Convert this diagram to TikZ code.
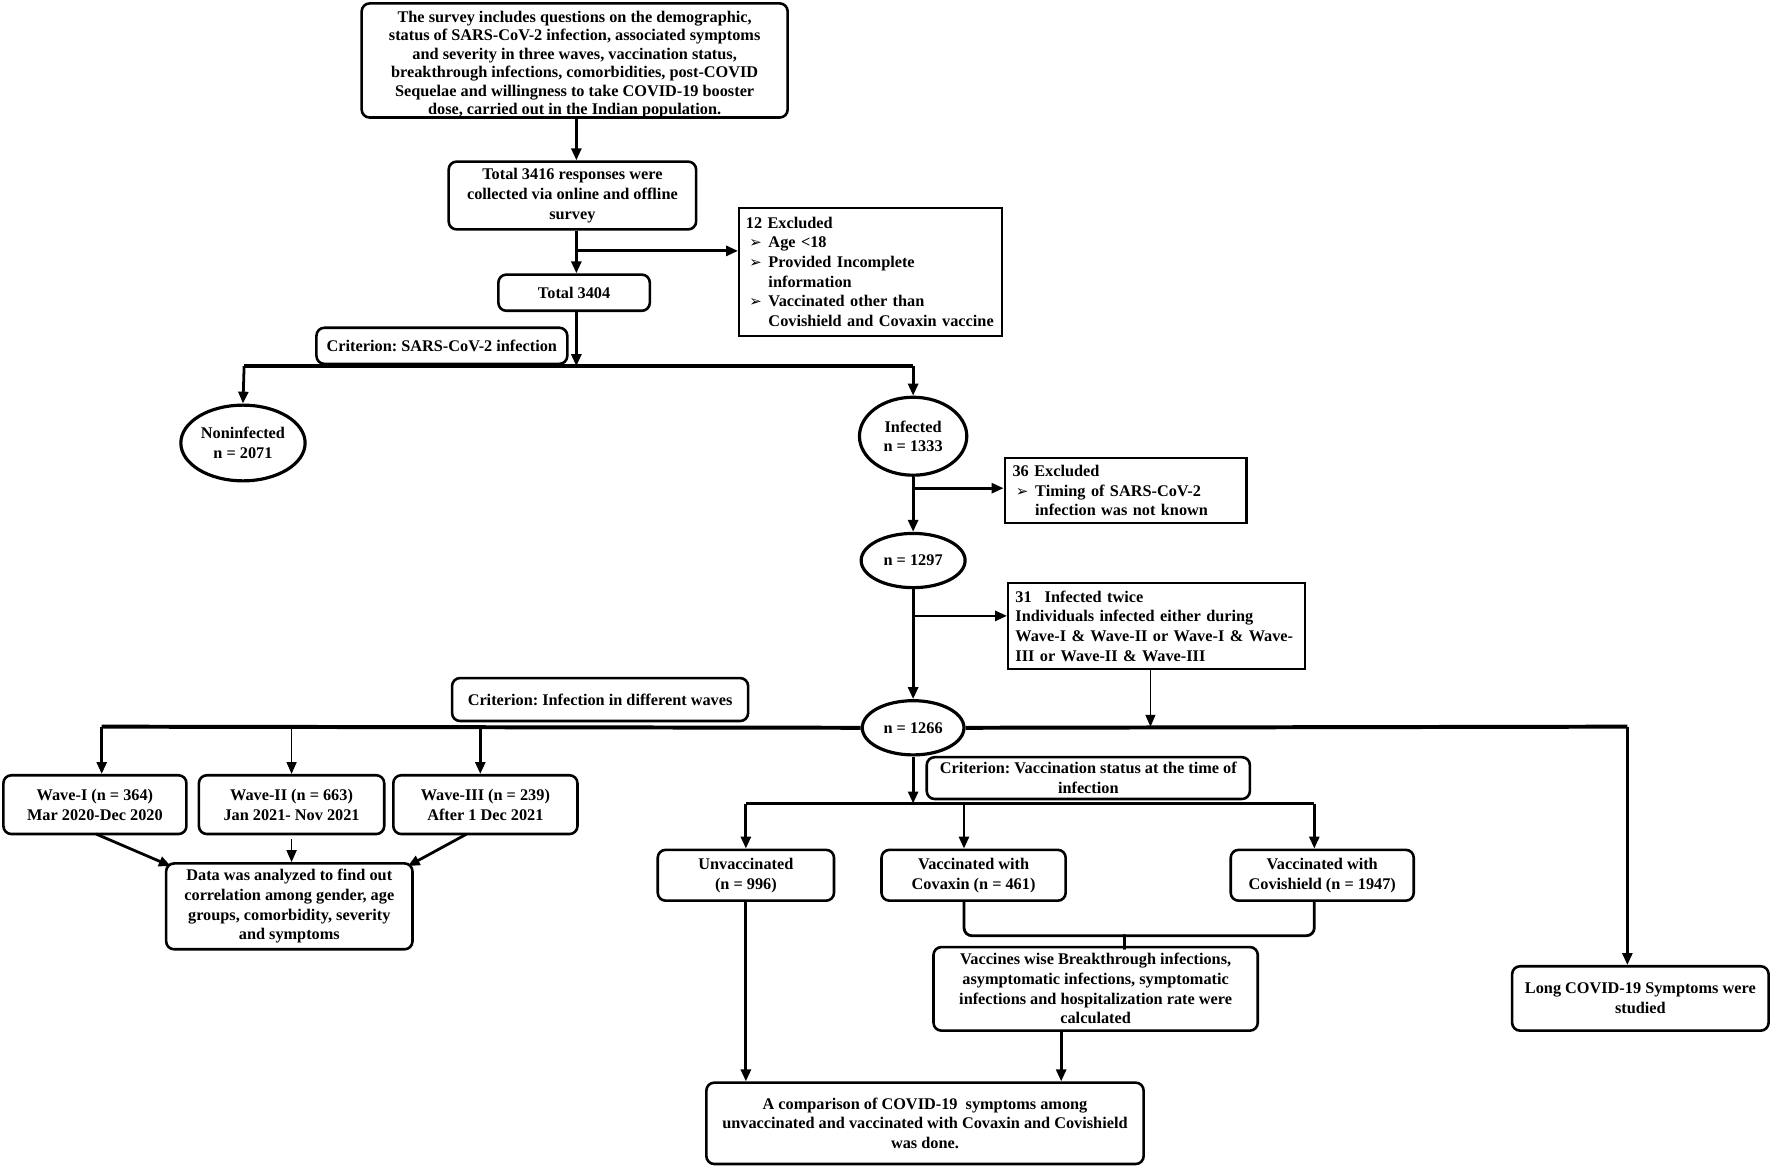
\documentclass[tikz,border=0pt]{standalone}
\usepackage{fontspec}
\setmainfont{Liberation Serif}
\newfontfamily\djv{DejaVu Sans}
\usetikzlibrary{arrows.meta,shapes.geometric}
\newcommand\bul{\hspace*{0.06cm}\makebox[0.34cm][l]{\djv\fontsize{7.5}{7.5}\selectfont ➢}}
\newcommand\ind{\hspace*{0.4cm}}
\frenchspacing
\begin{document}
\begin{tikzpicture}[x=0.02cm,y=-0.02cm,
  font=\fontsize{8.2}{9.9}\selectfont\bfseries,
  rbox/.style={draw, rounded corners=4pt, line width=1.3pt, inner sep=0pt, align=center},
  sbox/.style={draw, line width=1.1pt, inner sep=0pt, align=left},
  ell/.style={draw, ellipse, line width=1.6pt, inner sep=0pt, align=center},
  sz/.style 2 args={minimum width=#1, minimum height=#2},
  conn/.style={line width=1.4pt},
  arr/.style={conn, -{Triangle[length=6pt,width=5pt]}},
  thinarr/.style={line width=0.9pt, -{Triangle[length=6pt,width=5pt]}},
  bus/.style={line width=2pt},
]
\useasboundingbox (0,0) rectangle (1568,1034);

% boxes
\node[rbox, sz={7.54cm}{2.02cm}] (top) at (508.5,53.5) {};
\node[align=center, inner sep=0pt, font=\fontsize{8.2}{9.3}\selectfont\bfseries] (toptext) at (508.5,57) {The survey includes questions on the demographic,\\status of SARS-CoV-2 infection, associated symptoms\\and severity in three waves, vaccination status,\\breakthrough infections, comorbidities, post-COVID\\Sequelae and willingness to take COVID-19 booster\\dose, carried out in the Indian population.};
\node[rbox, sz={4.38cm}{1.2cm}] (resp) at (506.5,173) {Total 3416 responses were\\collected via online and offline\\survey};
\node[sbox, sz={4.66cm}{2.26cm}, text width=4.42cm] (ex12) at (770.5,240.5) {12 Excluded\\\bul Age <18\\\bul Provided Incomplete\\\ind information\\\bul Vaccinated other than\\\ind Covishield and Covaxin vaccine};
\node[rbox, sz={2.68cm}{0.64cm}] (tot) at (508,259) {Total 3404};
\node[rbox, sz={4.44cm}{0.64cm}] (crit1) at (391,306) {Criterion: SARS-CoV-2 infection};
\node[ell, sz={2.2cm}{1.34cm}] (noninf) at (215,392) {Noninfected\\n = 2071};
\node[ell, sz={1.9cm}{1.38cm}] (inf) at (808,386) {Infected\\n = 1333};
\node[sbox, sz={4.28cm}{1.16cm}, text width=4.0cm] (ex36) at (996,434) {36 Excluded\\\bul Timing of SARS-CoV-2\\\ind infection was not known};
\node[ell, sz={1.84cm}{0.96cm}] (n1297) at (808,496) {n = 1297};
\node[sbox, sz={5.26cm}{1.52cm}, text width=5.0cm] (ex31) at (1023.5,554) {31\hspace{0.8em}Infected twice\\Individuals infected either during\\Wave-I \& Wave-II or Wave-I \& Wave-\\III or Wave-II \& Wave-III};
\node[ell, sz={1.8cm}{0.96cm}] (n1266) at (808,644) {n = 1266};
\node[rbox, sz={5.24cm}{0.76cm}] (crit2) at (531,619) {Criterion: Infection in different waves};
\node[rbox, sz={3.24cm}{1.04cm}] (w1) at (84,712) {Wave-I (n = 364)\\Mar 2020-Dec 2020};
\node[rbox, sz={3.28cm}{1.04cm}] (w2) at (258,712) {Wave-II (n = 663)\\Jan 2021- Nov 2021};
\node[rbox, sz={3.26cm}{1.04cm}] (w3) at (429.5,712) {Wave-III (n = 239)\\After 1 Dec 2021};
\node[rbox, sz={4.36cm}{1.52cm}] (data) at (256,802) {Data was analyzed to find out\\correlation among gender, age\\groups, comorbidity, severity\\and symptoms};
\node[rbox, sz={5.72cm}{0.74cm}] (crit3) at (963,688.5) {Criterion: Vaccination status at the time of\\infection};
\node[rbox, sz={3.12cm}{0.9cm}] (unvac) at (660,774.5) {Unvaccinated\\(n = 996)};
\node[rbox, sz={3.26cm}{0.9cm}] (covax) at (861.5,774.5) {Vaccinated with\\Covaxin (n = 461)};
\node[rbox, sz={3.24cm}{0.9cm}] (covish) at (1170,774.5) {Vaccinated with\\Covishield (n = 1947)};
\node[rbox, sz={5.74cm}{1.48cm}] (vac) at (969.5,875) {Vaccines wise Breakthrough infections,\\asymptomatic infections, symptomatic\\infections and hospitalization rate were\\calculated};
\node[rbox, sz={7.74cm}{1.44cm}] (comp) at (818.5,994) {A comparison of COVID-19\ \ symptoms among\\unvaccinated and vaccinated with Covaxin and Covishield\\was done.};
\node[rbox, sz={4.54cm}{1.14cm}] (long) at (1451.5,883.5) {Long COVID-19 Symptoms were\\studied};

% coordinates
\coordinate (b1) at (510,222);
\coordinate (h1L) at (216,324);
\coordinate (h1M) at (510,324);
\coordinate (h1R) at (808,324);
\coordinate (b2) at (808,432);
\coordinate (b3) at (808,545);
\coordinate (h2L) at (90,643);
\coordinate (h2a) at (258,643);
\coordinate (h2b) at (425,643);
\coordinate (h2c) at (1018,643);
\coordinate (h2R) at (1440,643);
\coordinate (h3L) at (660,711);
\coordinate (h3M) at (808,711);
\coordinate (h3a) at (853,711);
\coordinate (h3R) at (1163,711);
\coordinate (bL) at (853,797);
\coordinate (bR) at (1163,797);
\coordinate (btip) at (995,840);
\coordinate (vout) at (939,913);
\coordinate (w3out) at (413,738);
\coordinate (w1out) at (85,738);

% connectors
\draw[arr] (top.south -| b1) -- (b1 |- resp.north);
\draw[arr] (b1 |- resp.south) -- (b1 |- tot.north);
\draw[arr] (b1) -- (b1 -| ex12.west);
\draw[arr] (b1 |- tot.south) -- (h1M);
\draw[bus] (h1L) -- (h1R);
\draw[arr] (h1L) -- (noninf.north);
\draw[arr] (h1R) -- (inf.north);
\draw[arr] (inf.south) -- (n1297.north);
\draw[arr] (b2) -- (b2 -| ex36.west);
\draw[arr] (n1297.south) -- (n1266.north);
\draw[arr] (b3) -- (b3 -| ex31.west);
\draw[thinarr] (h2c |- ex31.south) -- (h2c);
\draw[bus] (h2L) -- (n1266.west);
\draw[bus] (n1266.east) -- (h2R);
\draw[arr] (h2L) -- (h2L |- w1.north);
\draw[thinarr] (h2a) -- (h2a |- w2.north);
\draw[arr] (h2b) -- (h2b |- w3.north);
\draw[arr] (w1out) -- ([shift={(3pt,-2pt)}]data.north west);
\draw[thinarr] ([yshift=-2pt]w2.south) -- (w2.south |- data.north);
\draw[arr] (w3out) -- ([shift={(-3pt,-2pt)}]data.north east);
\draw[arr] (n1266.south) -- (h3M);
\draw[bus] (h3L) -- (h3R);
\draw[arr] (h3L) -- (unvac.north);
\draw[arr] (h3a) -- (h3a |- covax.north);
\draw[arr] (h3R) -- (h3R |- covish.north);
\draw[conn, rounded corners=4pt] (bL) -- (853,828) -- (988,828) .. controls (995,828) and (995,832) .. (btip);
\draw[conn, rounded corners=4pt] (bR) -- (1163,828) -- (1002,828) .. controls (995,828) and (995,832) .. (btip);
\draw[arr] (vout) -- (vout |- comp.north);
\draw[arr] (unvac.south) -- (unvac.south |- comp.north);
\draw[arr] (h2R) -- (h2R |- long.north);
\end{tikzpicture}
\end{document}
